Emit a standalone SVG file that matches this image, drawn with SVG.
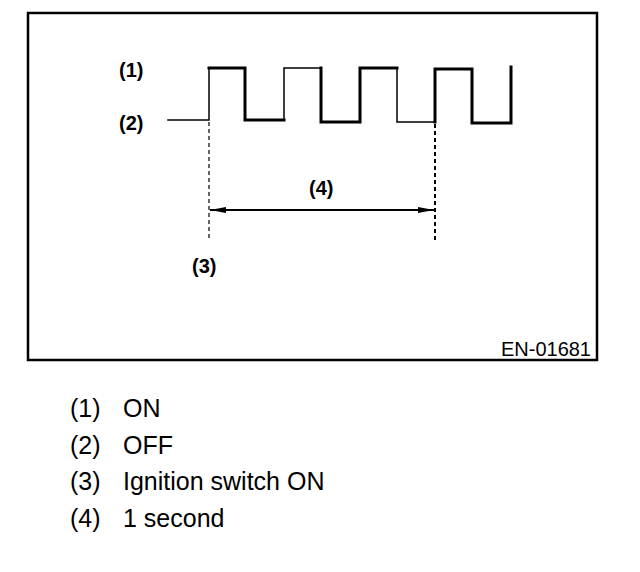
<svg xmlns="http://www.w3.org/2000/svg" width="640" height="572" viewBox="0 0 640 572">
<style>
.lbl{font-family:"Liberation Sans",Arial,sans-serif;font-size:20px;font-weight:bold;fill:#000}
.code{font-family:"Liberation Sans",Arial,sans-serif;font-size:20px;fill:#000}
.leg{font-family:"Liberation Sans",Arial,sans-serif;font-size:25px;fill:#000}
.thick{stroke:#000;stroke-width:3;fill:none;stroke-linecap:square}
.thin{stroke:#000;stroke-width:1.5;fill:none;stroke-linecap:square}
.dash{stroke:#000;fill:none;stroke-dasharray:4 3}
</style>
<defs>
<marker id="ah" viewBox="0 0 16 8" refX="16" refY="4" markerWidth="16" markerHeight="8" markerUnits="userSpaceOnUse" orient="auto-start-reverse">
<path d="M0,1 L16,4 L0,7 z" fill="#000"/>
</marker>
</defs>
<rect id="frame" x="28" y="13" width="569" height="347" fill="#fff" stroke="#000" stroke-width="2.5"/>
<g id="signal">
<path class="thin" d="M168,120 H209 V68"/>
<path class="thick" d="M209,68 H245 V120 H284"/>
<path class="thin" d="M284,120 V68 H321"/>
<path class="thick" d="M321,68 V122 H360 V68 H397"/>
<path class="thin" d="M397,68 V122 H435"/>
<path class="thick" d="M435,122 V69 H472 V123 H511 V67"/>
</g>
<g id="connectors">
<line class="dash" x1="209" y1="122" x2="209" y2="240" stroke-width="1.2"/>
<line class="dash" x1="435" y1="124" x2="435" y2="242" stroke-width="2"/>
<line x1="210" y1="210" x2="434" y2="210" stroke="#000" stroke-width="2" marker-start="url(#ah)" marker-end="url(#ah)"/>
</g>
<g id="label1"><text class="lbl" x="119" y="77">(1)</text></g>
<g id="label2"><text class="lbl" x="119" y="130">(2)</text></g>
<g id="label3"><text class="lbl" x="192" y="273">(3)</text></g>
<g id="label4"><text class="lbl" x="309" y="195">(4)</text></g>
<g id="code"><text class="code" x="591" y="356" text-anchor="end">EN-01681</text></g>
<g id="legend">
<text class="leg" x="70" y="417">(1)</text><text class="leg" x="123" y="417">ON</text>
<text class="leg" x="70" y="454">(2)</text><text class="leg" x="123" y="454">OFF</text>
<text class="leg" x="70" y="490">(3)</text><text class="leg" x="123" y="490">Ignition switch ON</text>
<text class="leg" x="70" y="527">(4)</text><text class="leg" x="123" y="527">1 second</text>
</g>
</svg>
